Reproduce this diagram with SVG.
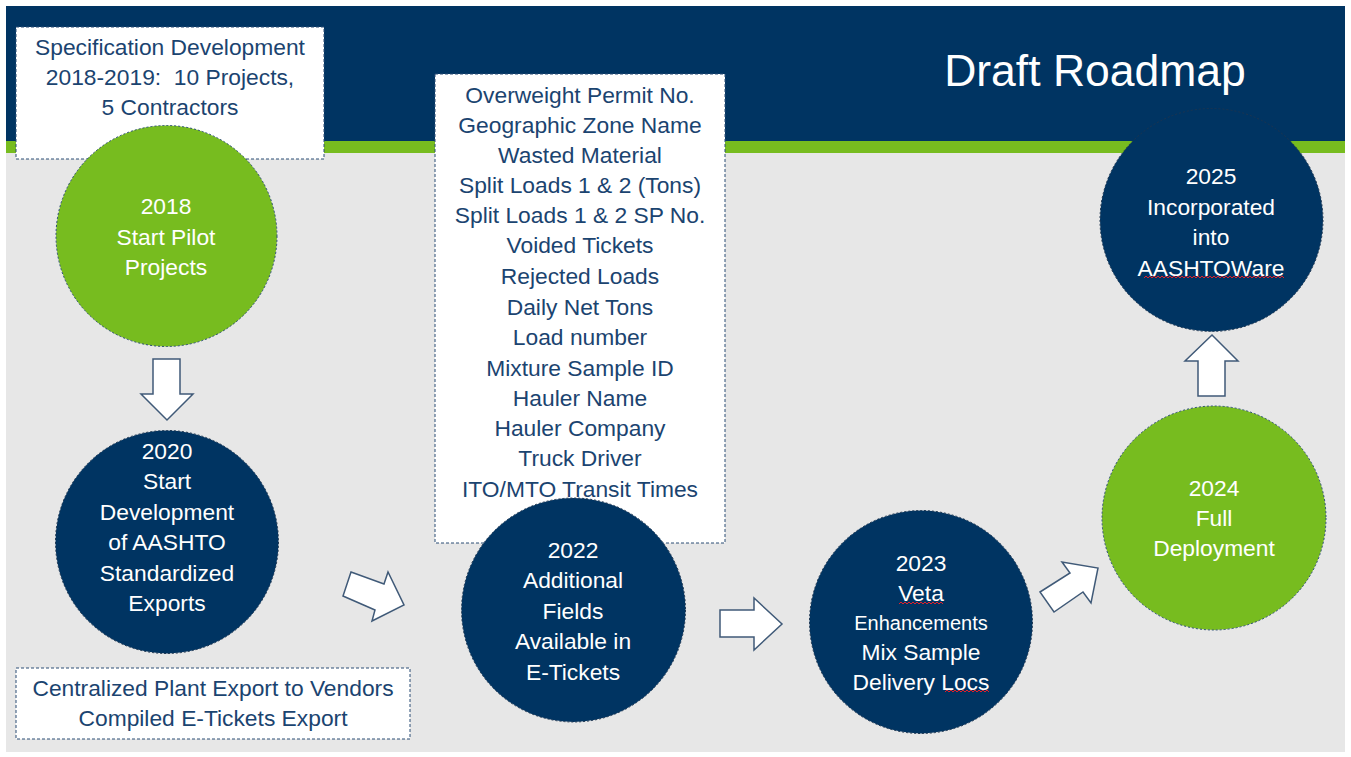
<svg xmlns="http://www.w3.org/2000/svg" width="1351" height="757" viewBox="0 0 1351 757">
<style>
.t{font-family:"Liberation Sans",Arial,sans-serif;font-size:22.8px;text-anchor:middle;white-space:pre}
.w{fill:#ffffff}
.n{fill:#1b4470}
.box{fill:#ffffff;stroke:#2a4d75;stroke-width:1;stroke-dasharray:3 2}
.cn{fill:#003462;stroke:#1d3550;stroke-width:1;stroke-dasharray:2 2}
.cg{fill:#77bc1f;stroke:#2a4d75;stroke-width:1;stroke-dasharray:2 2}
.arr{fill:#ffffff;stroke:#405a78;stroke-width:1.5;stroke-linejoin:miter}
.wave{fill:none;stroke:#e0202a;stroke-width:1}
</style>
<rect x="0" y="0" width="1351" height="757" fill="#ffffff"/>
<rect x="6" y="6" width="1339" height="746" fill="#e7e7e7"/>
<rect x="6" y="6" width="1339" height="135" fill="#003462"/>
<rect x="6" y="141" width="1339" height="12" fill="#77bc1f"/>
<text x="1095" y="86" class="t w" style="font-size:44.5px">Draft Roadmap</text>

<g id="connectors">
<polygon class="arr" points="153,359 180,359 180,394 193,394 167,420 141,394 153,394"/>
<polygon class="arr" points="351,572 384,584 388,572 404,605 372,621 375,610 343,596"/>
<polygon class="arr" points="720,610 754,610 754,598 782,624 754,650 754,637 720,637"/>
<polygon class="arr" points="1040,592 1070,573 1062,562 1098,568 1091,603 1083,592 1054,612"/>
<polygon class="arr" points="1198,396 1225,396 1225,361 1238,361 1212,335 1185,361 1198,361"/>
</g>

<g id="spec-box">
<rect class="box" x="16" y="27" width="308" height="132"/>
<text class="t n" x="170" y="55">Specification Development</text>
<text class="t n" x="170" y="85" xml:space="preserve">2018-2019:  10 Projects,</text>
<text class="t n" x="170" y="115">5 Contractors</text>
</g>

<g id="node-2018">
<circle class="cg" cx="166.5" cy="236" r="110.5"/>
<text class="t w" x="166" y="214">2018</text>
<text class="t w" x="166" y="245">Start Pilot</text>
<text class="t w" x="166" y="275">Projects</text>
</g>

<g id="node-2020">
<circle class="cn" cx="167" cy="542" r="111.5"/>
<text class="t w" x="167" y="459">2020</text>
<text class="t w" x="167" y="489">Start</text>
<text class="t w" x="167" y="520">Development</text>
<text class="t w" x="167" y="550">of AASHTO</text>
<text class="t w" x="167" y="581">Standardized</text>
<text class="t w" x="167" y="611">Exports</text>
</g>

<g id="export-box">
<rect class="box" x="16" y="668" width="394" height="71"/>
<text class="t n" x="213" y="696">Centralized Plant Export to Vendors</text>
<text class="t n" x="213" y="726">Compiled E-Tickets Export</text>
</g>

<g id="fields-box">
<rect class="box" x="435" y="74" width="290" height="469"/>
<text class="t n" x="580" y="103">Overweight Permit No.</text>
<text class="t n" x="580" y="133">Geographic Zone Name</text>
<text class="t n" x="580" y="163">Wasted Material</text>
<text class="t n" x="580" y="193">Split Loads 1 &amp; 2 (Tons)</text>
<text class="t n" x="580" y="223">Split Loads 1 &amp; 2 SP No.</text>
<text class="t n" x="580" y="253">Voided Tickets</text>
<text class="t n" x="580" y="284">Rejected Loads</text>
<text class="t n" x="580" y="315">Daily Net Tons</text>
<text class="t n" x="580" y="345">Load number</text>
<text class="t n" x="580" y="376">Mixture Sample ID</text>
<text class="t n" x="580" y="406">Hauler Name</text>
<text class="t n" x="580" y="436">Hauler Company</text>
<text class="t n" x="580" y="466">Truck Driver</text>
<text class="t n" x="580" y="497">ITO/MTO Transit Times</text>
</g>

<g id="node-2022">
<circle class="cn" cx="573.5" cy="610" r="112"/>
<text class="t w" x="573" y="558">2022</text>
<text class="t w" x="573" y="588">Additional</text>
<text class="t w" x="573" y="619">Fields</text>
<text class="t w" x="573" y="649">Available in</text>
<text class="t w" x="573" y="680">E-Tickets</text>
</g>

<g id="node-2023">
<circle class="cn" cx="921" cy="622" r="111.5"/>
<text class="t w" x="921" y="571">2023</text>
<text class="t w" x="921" y="601">Veta</text>
<text class="t w" x="921" y="630" style="font-size:20px">Enhancements</text>
<text class="t w" x="921" y="660">Mix Sample</text>
<text class="t w" x="921" y="690">Delivery Locs</text>
<path class="wave" d="M899,604 l2,-2 l2,2 l2,-2 l2,2 l2,-2 l2,2 l2,-2 l2,2 l2,-2 l2,2 l2,-2 l2,2 l2,-2 l2,2 l2,-2 l2,2 l2,-2 l2,2 l2,-2 l2,2 l2,-2 l2,2"/>
<path class="wave" d="M945,692 l2,-2 l2,2 l2,-2 l2,2 l2,-2 l2,2 l2,-2 l2,2 l2,-2 l2,2 l2,-2 l2,2 l2,-2 l2,2 l2,-2 l2,2 l2,-2 l2,2 l2,-2 l2,2 l2,-2 l2,2"/>
</g>

<g id="node-2024">
<circle class="cg" cx="1214" cy="518" r="112"/>
<text class="t w" x="1214" y="496">2024</text>
<text class="t w" x="1214" y="526">Full</text>
<text class="t w" x="1214" y="556">Deployment</text>
</g>

<g id="node-2025">
<circle class="cn" cx="1211.5" cy="220" r="111.5"/>
<text class="t w" x="1211" y="184">2025</text>
<text class="t w" x="1211" y="215">Incorporated</text>
<text class="t w" x="1211" y="245">into</text>
<text class="t w" x="1211" y="276">AASHTOWare</text>
<path class="wave" d="M1144,278 l2,-2 l2,2 l2,-2 l2,2 l2,-2 l2,2 l2,-2 l2,2 l2,-2 l2,2 l2,-2 l2,2 l2,-2 l2,2 l2,-2 l2,2 l2,-2 l2,2 l2,-2 l2,2 l2,-2 l2,2 l2,-2 l2,2 l2,-2 l2,2 l2,-2 l2,2 l2,-2 l2,2 l2,-2 l2,2 l2,-2 l2,2 l2,-2 l2,2 l2,-2 l2,2 l2,-2 l2,2 l2,-2 l2,2 l2,-2 l2,2 l2,-2 l2,2 l2,-2 l2,2 l2,-2 l2,2 l2,-2 l2,2 l2,-2 l2,2 l2,-2 l2,2 l2,-2 l2,2 l2,-2 l2,2 l2,-2 l2,2 l2,-2 l2,2 l2,-2 l2,2 l2,-2 l2,2 l2,-2 l2,2"/>
</g>
</svg>
